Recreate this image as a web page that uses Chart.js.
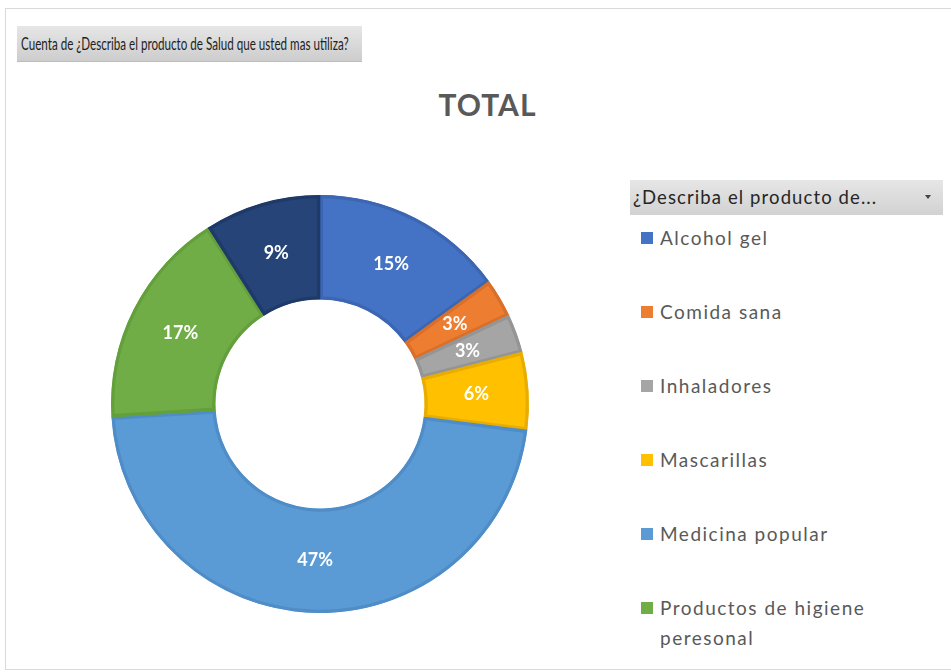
<!DOCTYPE html>
<html>
<head>
<meta charset="utf-8">
<script src="https://cdn.jsdelivr.net/npm/chart.js@4"></script>
<style>
  html, body { margin: 0; padding: 0; background: #fff; }
  body { width: 951px; height: 672px; position: relative; overflow: hidden; font-family: Lato, "Open Sans", sans-serif; }
  #frame { position: absolute; left: 5px; top: 8px; width: 960px; height: 662px; border: 1px solid #d9d9d9; box-sizing: border-box; }
  #fieldBtn { position: absolute; left: 17px; top: 26px; width: 345px; height: 36px; box-sizing: border-box;
    background: linear-gradient(#e6e6e6, #cdcdcd); border-bottom: 1px solid #bdbdbd;
    font-size: 16.5px; color: #1f1f1f; line-height: 36px; padding-left: 4px; white-space: nowrap; }
  #fieldBtn span { display: inline-block; transform: scaleX(0.705); transform-origin: left center; }
  #title { position: absolute; left: 0; width: 975px; top: 86px; text-align: center; font-size: 30px; font-weight: bold; color: #595959; letter-spacing: 1px; }
  #legendHead { position: absolute; left: 630px; top: 180px; width: 313px; height: 35px; box-sizing: border-box;
    background: linear-gradient(#e6e6e6, #d2d2d2); font-size: 18.5px; color: #262626; line-height: 35px; padding-left: 3px; white-space: nowrap; letter-spacing: 1.1px; }
  #legendHead .arrow { position: absolute; right: 12px; top: 15px; width: 0; height: 0;
    border-left: 3px solid transparent; border-right: 3px solid transparent; border-top: 4px solid #444; }
  #legend { position: absolute; left: 641px; top: 223px; width: 260px; margin: 0; padding: 0; list-style: none; }
  #legend li { position: relative; height: 74px; padding-left: 19px; font-size: 19px; color: #595959; line-height: 30px; letter-spacing: 1.5px; }
  #legend li span.sw { position: absolute; left: 0; top: 9px; width: 12px; height: 12px; }
  #chartBox { position: absolute; left: 0; top: 0; width: 951px; height: 672px; }
</style>
</head>
<body>
<div id="frame"></div>
<div id="fieldBtn"><span>Cuenta de ¿Describa el producto de Salud que usted mas utiliza?</span></div>
<div id="title">TOTAL</div>
<div id="legendHead">¿Describa el producto de...<span class="arrow"></span></div>
<ul id="legend"></ul>
<div id="chartBox"><canvas id="c" width="951" height="672"></canvas></div>
<script>
// Share of respondents per product (percent)
const categories = [
  "Alcohol gel",
  "Comida sana",
  "Inhaladores",
  "Mascarillas",
  "Medicina popular",
  "Productos de higiene peresonal",
  "Vitaminas"
];
const shares = [15, 3, 3, 6, 47, 17, 9];
const fillColors = ["#4472C4", "#ED7D31", "#A5A5A5", "#FFC000", "#5B9BD5", "#70AD47", "#264478"];
const edgeColors = ["#3c66b2", "#d96f28", "#959595", "#e8ad00", "#4f8dc8", "#63a03c", "#1f3a68"];

// Legend list, built from the same arrays
const legendEl = document.getElementById('legend');
categories.forEach((name, i) => {
  const li = document.createElement('li');
  const sw = document.createElement('span');
  sw.className = 'sw';
  sw.style.background = fillColors[i];
  li.appendChild(sw);
  li.appendChild(document.createTextNode(name));
  legendEl.appendChild(li);
});

// Percentage labels at each slice centroid
const sliceLabels = {
  id: 'sliceLabels',
  afterDatasetsDraw(chart) {
    const ctx = chart.ctx;
    const meta = chart.getDatasetMeta(0);
    const data = chart.data.datasets[0].data;
    ctx.save();
    ctx.font = 'bold 18px Lato, "Open Sans", sans-serif';
    ctx.fillStyle = '#ffffff';
    ctx.textAlign = 'center';
    ctx.textBaseline = 'middle';
    meta.data.forEach((arc, i) => {
      const p = arc.tooltipPosition();
      ctx.fillText(data[i] + '%', p.x, p.y);
    });
    ctx.restore();
  }
};

new Chart(document.getElementById('c'), {
  type: 'doughnut',
  data: {
    labels: categories,
    datasets: [{
      data: shares,
      backgroundColor: fillColors,
      borderColor: edgeColors,
      borderWidth: 3,
      borderAlign: 'inner',
      hoverOffset: 0
    }]
  },
  options: {
    responsive: false,
    animation: false,
    cutout: '50%',
    layout: { padding: { left: 111, right: 422, top: 195, bottom: 59 } },
    plugins: {
      legend: { display: false },
      title: { display: false },
      tooltip: { enabled: false }
    }
  },
  plugins: [sliceLabels]
});
</script>
</body>
</html>
